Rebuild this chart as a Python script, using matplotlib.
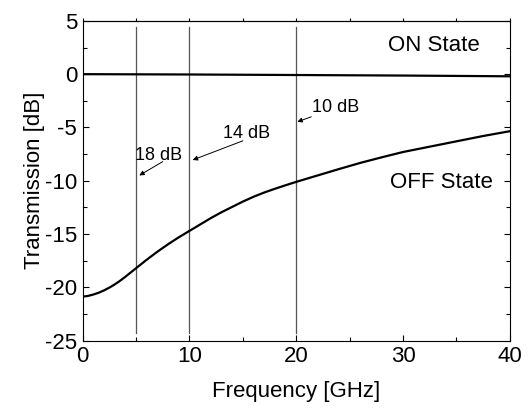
import matplotlib
matplotlib.use("Agg")
import matplotlib.pyplot as plt
from matplotlib.ticker import MultipleLocator

plt.rcParams['font.family'] = ['Liberation Sans', 'DejaVu Sans']
plt.rcParams['axes.unicode_minus'] = False

freq = [0, 0.5, 1, 1.5, 2, 2.5, 3, 3.5, 4, 4.5, 5, 6, 7, 8, 9, 10, 11, 12, 13, 14,
        15, 16, 17, 18, 19, 20, 22, 24, 26, 28, 30, 32.5, 35, 37.5, 40]
off_state = [-20.87, -20.8, -20.67, -20.5, -20.28, -20.02, -19.72, -19.38, -19.0, -18.6,
             -18.2, -17.4, -16.65, -15.95, -15.3, -14.7, -14.1, -13.5, -12.95, -12.45,
             -11.95, -11.5, -11.1, -10.75, -10.42, -10.1, -9.5, -8.9, -8.32, -7.8,
             -7.3, -6.8, -6.3, -5.8, -5.35]
on_freq = [0, 10, 20, 30, 40]
on_state = [0.0, -0.03, -0.08, -0.13, -0.2]
marker_freqs = [5, 10, 20]
# label, text position, arrow tail, arrow head
annots = [
    ("10 dB", (23.7, -3.1), (21.4, -4.0), (20.1, -4.47)),
    ("14 dB", (15.3, -5.6), (15.0, -6.25), (10.3, -8.05)),
    ("18 dB", (7.1, -7.6), (7.5, -8.2), (5.3, -9.5)),
]

fig = plt.figure(figsize=(5.3, 4.09), dpi=100)
ax = fig.add_axes([0.156, 0.167, 0.806, 0.782])

for f in marker_freqs:
    ax.plot([f, f], [-24.3, 4.4], color='#555555', lw=0.9)

ax.plot(on_freq, on_state, color='black', lw=1.6)
ax.plot(freq, off_state, color='black', lw=1.6)

for lab, tp, tail, head in annots:
    ax.annotate('', xy=head, xytext=tail,
                arrowprops=dict(arrowstyle='-|>', color='black', lw=0.7,
                                mutation_scale=7, shrinkA=0, shrinkB=0))
    ax.text(tp[0], tp[1], lab, fontsize=13, ha='center', va='center')

ax.text(32.9, 2.7, "ON State", fontsize=16, ha='center', va='center')
ax.text(33.6, -10.2, "OFF State", fontsize=16, ha='center', va='center')

ax.set_xlim(0, 40)
ax.set_ylim(-25, 5)
ax.xaxis.set_major_locator(MultipleLocator(10))
ax.xaxis.set_minor_locator(MultipleLocator(5))
ax.yaxis.set_major_locator(MultipleLocator(5))
ax.yaxis.set_minor_locator(MultipleLocator(2.5))
ax.tick_params(which='both', direction='in', right=True, labelsize=16, width=0.8)
ax.tick_params(which='major', length=4, pad=4)
ax.tick_params(which='minor', length=3)
ax.tick_params(axis='x', which='both', top=False)
sec = ax.secondary_xaxis('top')
sec.xaxis.set_major_locator(MultipleLocator(5))
sec.tick_params(direction='out', length=2, labeltop=False, width=0.8)
sec.spines['top'].set_linewidth(0.8)
for s in ax.spines.values():
    s.set_linewidth(0.8)

ax.set_xlabel("Frequency [GHz]", fontsize=16, labelpad=10)
ax.set_ylabel("Transmission [dB]", fontsize=16, labelpad=0)

fig.savefig("out.png", dpi=100)
